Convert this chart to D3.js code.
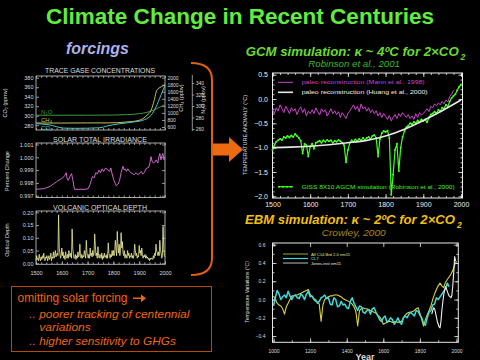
<!DOCTYPE html>
<html><head><meta charset="utf-8">
<script src="https://cdn.jsdelivr.net/npm/d3@7"></script>
<style>html,body{margin:0;padding:0;background:#000;overflow:hidden}svg{display:block}</style>
</head><body>
<svg id="c" width="480" height="360"></svg>
<script>
// ---------------- DATA ----------------
// Trace gases (left top panel)
const co2Years = [1500,1550,1607,1650,1748,1774,1825,1876,1913,1946,1965,1984,2000];
const co2Vals  = [283.2,281,274,273.5,274.7,278.3,283.2,286.7,290.3,300.8,318.3,343,364];
const ch4Years = [1500,1600,1700,1780,1850,1900,1930,1946,1958,1968,1985,2000];
const ch4Vals  = [714,712,716,716,742,790,932,1074,1350,1642,1740,1802];
const n2oYears = [1500,1600,1700,1800,1850,1900,1930,1953,1975,2000];
const n2oVals  = [284,284,284,284.3,285,286.6,289,292.5,297,302.3];
const co2Ticks = [280,300,320,340,360,380];
const ch4Ticks = [600,800,1000,1200,1400,1600,1800,2000];
const n2oTicks = [260,280,300,320,340];

// Solar total irradiance
const solarYears = [1500,1530,1555,1580,1600,1606,1612,1617,1620,1625,1632,1638,1643,1649,1670,1690,1702,1710,1719,1725,1732,1738,1744,1750,1756,1762,1770,1778,1786,1790,1795,1802,1811,1818,1824,1830,1837,1842,1846,1851,1856,1862,1868,1876,1882,1888,1894,1900,1908,1914,1920,1926,1931,1937,1942,1946,1950,1955,1960,1966,1972,1976,1980,1984,1988,1992,1996,2000];
const solarVals  = [0.9975,0.99755,0.99773,0.9981,0.99835,0.99843,0.9986,0.9988,0.9984,0.9982,0.9985,0.99872,0.9982,0.9975,0.9975,0.9975,0.99755,0.9979,0.9985,0.9984,0.9988,0.9987,0.9990,0.9988,0.9991,0.9989,0.99917,0.9990,0.9989,0.99917,0.9987,0.9982,0.99777,0.9979,0.9982,0.9988,0.9993,0.9990,0.9991,0.9989,0.9991,0.9989,0.9988,0.9987,0.99865,0.9988,0.99865,0.9987,0.9989,0.9987,0.9988,0.9991,0.99917,0.9992,0.9996,1.00005,0.9997,0.99955,0.9996,0.9998,0.99955,1.0000,1.0003,0.9998,1.0001,1.0003,0.9998,0.9999];
const solarTicks = [0.997,0.998,0.999,1.000,1.001];

// Volcanic optical depth, 2.5-year steps 1500..2000
const volcVals = [
 0.01,0.03,0.015,0.02,0.01,0.035,0.02,0.01,0.025,0.015,0.03,0.02,0.04,0.015,0.01,0.025,0.02,0.03,0.01,0.02,
 0.03,0.015,0.02,0.04,0.01,0.025,0.02,0.045,0.02,0.03,0.05,0.025,0.035,0.04,0.03,0.19,0.06,0.04,0.02,0.03,
 0.06,0.03,0.045,0.02,0.03,0.015,0.045,0.025,0.02,0.035,0.02,0.05,0.03,0.025,0.04,0.02,0.135,0.06,0.035,0.02,
 0.02,0.035,0.015,0.03,0.02,0.045,0.025,0.03,0.075,0.03,0.02,0.035,0.02,0.03,0.025,0.05,0.035,0.02,0.09,0.04,
 0.03,0.02,0.035,0.02,0.06,0.03,0.04,0.025,0.05,0.03,0.04,0.115,0.07,0.03,0.04,0.02,0.065,0.03,0.02,0.035,
 0.03,0.02,0.04,0.015,0.03,0.02,0.04,0.025,0.03,0.02,0.035,0.02,0.08,0.04,0.03,0.02,0.035,0.025,0.05,0.03,
 0.05,0.03,0.04,0.09,0.06,0.03,0.125,0.07,0.04,0.075,0.03,0.05,0.12,0.06,0.085,0.04,0.03,0.05,0.02,0.035,
 0.03,0.02,0.05,0.03,0.04,0.02,0.03,0.025,0.04,0.02,0.03,0.02,0.035,0.075,0.05,0.03,0.04,0.02,0.03,0.025,
 0.07,0.04,0.05,0.03,0.06,0.035,0.02,0.03,0.025,0.035,0.02,0.03,0.02,0.025,0.015,0.02,0.01,0.02,0.015,0.02,
 0.02,0.015,0.03,0.02,0.04,0.03,0.075,0.05,0.04,0.03,0.045,0.03,0.09,0.05,0.04,0.02,0.03,0.145,0.06,0.03,
 0.025];
const volcTicks = [0,0.05,0.10,0.15,0.20];
const leftYearTicks = [1500,1600,1700,1800,1900,2000];

// GCM panel: Mann et al. (5-year steps 1500..1980)
const mannVals = [
 -0.22,-0.30,-0.18,-0.25,-0.12,-0.20,-0.28,-0.15,-0.22,-0.30,
 -0.18,-0.25,-0.20,-0.32,-0.22,-0.16,-0.28,-0.20,-0.35,-0.25,
 -0.30,-0.22,-0.30,-0.18,-0.26,-0.33,-0.20,-0.27,-0.22,-0.35,
 -0.28,-0.20,-0.30,-0.24,-0.32,-0.26,-0.38,-0.28,-0.34,-0.40,
 -0.30,-0.25,-0.18,-0.12,-0.22,-0.15,-0.26,-0.10,-0.20,-0.16,
 -0.25,-0.18,-0.28,-0.22,-0.30,-0.24,-0.35,-0.28,-0.38,-0.30,
 -0.36,-0.42,-0.34,-0.45,-0.38,-0.32,-0.40,-0.30,-0.36,-0.28,
 -0.33,-0.38,-0.32,-0.40,-0.35,-0.42,-0.30,-0.38,-0.28,-0.33,
 -0.30,-0.25,-0.20,-0.26,-0.15,-0.18,-0.10,-0.14,-0.08,-0.12,
 -0.05,-0.10,-0.02,-0.06,0.05,0.10,0.18];
// Huang et al. borehole reconstruction
const huangYears = [1500,1550,1600,1650,1700,1750,1800,1850,1900,1950,2000];
const huangVals  = [-1.0,-0.99,-0.97,-0.94,-0.90,-0.85,-0.76,-0.62,-0.44,-0.24,-0.02];
// GISS 8x10 AGCM simulation (5-year steps 1500..2000)
const gissVals = [
 -1.05,-0.95,-0.88,-0.85,-0.82,-0.84,-0.78,-0.80,-0.76,-0.79,
 -0.75,-0.78,-0.72,-0.76,-0.80,-0.86,-1.12,-0.92,-0.95,-1.18,
 -0.98,-0.92,-1.02,-0.90,-0.88,-0.86,-0.90,-0.85,-0.88,-0.84,
 -0.87,-0.85,-0.90,-0.86,-0.88,-0.84,-0.87,-0.90,-0.95,-1.30,
 -1.05,-0.90,-0.85,-0.88,-0.83,-0.86,-0.82,-0.85,-0.80,-0.84,
 -0.80,-0.78,-0.82,-0.76,-0.74,-0.80,-1.18,-0.82,-0.70,-0.66,
 -0.68,-0.65,-0.80,-1.97,-1.55,-1.05,-0.92,-1.48,-1.00,-0.78,
 -0.66,-0.58,-0.55,-0.50,-0.52,-0.47,-0.50,-0.44,-0.48,-0.42,
 -0.45,-0.42,-0.48,-0.38,-0.32,-0.30,-0.26,-0.30,-0.22,-0.25,
 -0.18,-0.20,-0.12,-0.16,-0.05,0.02,0.06,0.10,0.18,0.25,
 0.30];
const gcmYTicks = [-2.0,-1.5,-1.0,-0.5,0.0,0.5];
const gcmXTicks = [1500,1600,1700,1800,1900,2000];

// EBM panel (Crowley 2000), 10-year steps
const c14Vals = [
 0.04,0.0,-0.04,-0.06,-0.07,-0.10,-0.16,-0.08,-0.04,0.0,
 0.04,0.04,0.05,0.05,0.06,0.07,0.08,0.09,0.10,0.11,
 0.06,0.03,0.0,-0.02,-0.03,-0.05,-0.24,-0.06,0.0,0.02,
 0.03,0.04,0.04,0.05,0.05,0.05,0.04,0.03,0.01,0.0,
 -0.01,-0.02,-0.03,-0.05,-0.08,-0.13,-0.29,-0.12,-0.10,-0.09,
 -0.10,-0.10,-0.11,-0.12,-0.13,-0.14,-0.15,-0.17,-0.19,-0.22,
 -0.27,-0.26,-0.25,-0.24,-0.24,-0.25,-0.24,-0.24,-0.25,-0.24,
 -0.24,-0.20,-0.17,-0.15,-0.14,-0.14,-0.13,-0.12,-0.10,-0.09,
 -0.15,-0.22,-0.29,-0.22,-0.17,-0.12,-0.07,0.0,0.06,0.11,
 0.15,0.18,0.15,0.13,0.19,0.22,0.25,0.28,0.32,0.38,0.42];
const cl7Vals = [
 -0.07,0.02,0.10,0.06,0.0,0.03,0.05,0.02,0.09,0.04,
 0.0,0.04,0.05,0.02,0.01,0.06,0.04,0.0,0.06,0.09,
 0.03,0.04,0.01,0.0,-0.04,-0.02,0.02,0.03,0.05,0.01,
 0.02,-0.05,-0.06,0.02,0.0,-0.08,-0.07,-0.02,-0.06,-0.05,
 -0.09,-0.10,-0.02,0.02,-0.04,-0.08,-0.12,-0.07,-0.08,-0.14,
 -0.15,-0.12,-0.11,-0.16,-0.10,-0.09,-0.14,-0.18,-0.22,-0.24,
 -0.20,-0.18,-0.25,-0.23,-0.20,-0.22,-0.27,-0.24,-0.20,-0.25,
 -0.27,-0.20,-0.18,-0.20,-0.16,-0.14,-0.16,-0.18,-0.12,-0.13,
 -0.17,-0.20,-0.26,-0.28,-0.20,-0.14,-0.12,-0.06,-0.05,0.02,
 0.0,0.03,0.06,0.09,0.12,0.18,0.14];
const jonesYears = [1865,1870,1875,1880,1885,1890,1895,1900,1905,1910,1915,1920,1925,1930,1935,1940,1945,1950,1955,1960,1965,1970,1975,1980,1985,1990,1995];
const jonesVals  = [-0.16,-0.12,-0.09,-0.10,-0.14,-0.19,-0.24,-0.27,-0.30,-0.31,-0.24,-0.12,-0.03,0.05,0.10,0.14,0.12,0.09,0.06,0.04,0.03,0.02,0.05,0.16,0.30,0.47,0.42];
const ebmYTicks = [-0.4,-0.2,0.0,0.2,0.4,0.6];
const ebmXTicks = [1000,1200,1400,1600,1800,2000];

// ---------------- DRAWING ----------------
const FONT = '"Liberation Sans", Arial, Helvetica, sans-serif';
const svg = d3.select("#c");
svg.append("rect").attr("width",480).attr("height",360).attr("fill","#000");

function T(x,y,s,o={}){
  const t = svg.append("text").attr("x",x).attr("y",y).text(s)
    .attr("font-family",o.font||FONT).attr("fill",o.fill||"#fff")
    .attr("font-size",o.size||6).attr("text-anchor",o.anchor||"start");
  if(o.bold) t.attr("font-weight","bold");
  if(o.italic) t.attr("font-style","italic");
  if(o.len) t.attr("textLength",o.len).attr("lengthAdjust","spacingAndGlyphs");
  if(o.rot) t.attr("transform",`rotate(${o.rot},${x},${y})`);
  return t;
}
function ax(gen, scale, vals, size, fmt, tx, ty, o){
  const a = gen(scale).tickValues(vals).tickSize(size).tickSizeOuter(0)
    .tickPadding(o.pad==null?2:o.pad).tickFormat(fmt||(()=>""));
  const g = svg.append("g").attr("transform",`translate(${tx},${ty})`).call(a);
  g.select(".domain").remove();
  g.attr("font-size",o.fs||6).attr("font-family",FONT);
  g.selectAll("line").attr("stroke",o.c||"#bbb").attr("stroke-width",o.sw||0.8);
  g.selectAll("text").attr("fill",o.tc||"#ddd");
  return g;
}
function box(l,t,r,b,c,sw){
  svg.append("rect").attr("x",l).attr("y",t).attr("width",r-l).attr("height",b-t)
    .attr("fill","none").attr("stroke",c).attr("stroke-width",sw||1);
}
function path(data, x, y, color, w, curve){
  const ln = d3.line().x(d=>x(d[0])).y(d=>y(d[1]));
  if(curve) ln.curve(curve);
  return svg.append("path").datum(data).attr("d",ln).attr("fill","none")
    .attr("stroke",color).attr("stroke-width",w).attr("stroke-linejoin","round");
}
const zip = (xs,ys)=>xs.map((v,i)=>[v,ys[i]]);

// Title
T(240,24,"Climate Change in Recent Centuries",{size:22,bold:true,fill:"#62ec3c",anchor:"middle",len:388});
T(66,54,"forcings",{size:16,bold:true,italic:true,fill:"#aeb2ee",len:63});

// ---- Left panels ----
const xL = d3.scaleLinear().domain([1500,2000]).range([36,165]);
const minorYears = d3.range(1500,2001,20);
const LC = "#b8b8b8";

// Trace gases
const yCO2 = d3.scaleLinear().domain([270,383.6]).range([130,76]);
const yCH4 = d3.scaleLinear().domain([515,2048]).range([130,76]);
const yN2O = d3.scaleLinear().domain([256.5,354]).range([131,75]);
T(100,73,"TRACE GASE CONCENTRATIONS",{size:6.5,anchor:"middle",fill:"#ddd",len:110});
ax(d3.axisLeft, yCO2, co2Ticks, -3, d=>d, 36,0,{fs:5.5,pad:2.5,c:LC});
ax(d3.axisRight, yCH4, ch4Ticks, -3, d=>d, 165,0,{fs:5,pad:2.5,c:LC});
ax(d3.axisBottom, xL, minorYears, -2, null, 0,130,{c:LC});
ax(d3.axisTop, xL, minorYears, -2, null, 0,76,{c:LC});
box(36,76,165,130,LC,0.9);
svg.append("line").attr("x1",192.3).attr("x2",192.3).attr("y1",75).attr("y2",131).attr("stroke",LC).attr("stroke-width",0.8);
ax(d3.axisRight, yN2O, n2oTicks, 2, d=>d, 192.3,0,{fs:5,pad:1.5,c:LC});
T(7,103,"CO\u2082 (ppmv)",{size:5.5,anchor:"middle",rot:-90,fill:"#ddd"});
T(183,98,"CH\u2084 (ppbv)",{size:5.5,anchor:"middle",rot:-90,fill:"#ddd"});
T(205,100,"N\u2082O (ppbv)",{size:5.5,anchor:"middle",rot:-90,fill:"#ddd"});
path(zip(n2oYears,n2oVals), xL, yN2O, "#3f9a3f", 1, d3.curveMonotoneX);
path(zip(ch4Years,ch4Vals), xL, yCH4, "#c2c25a", 1, d3.curveMonotoneX);
path(zip(co2Years,co2Vals), xL, yCO2, "#4cc8c8", 1, d3.curveMonotoneX);
T(41,114,"N\u2082O",{size:6,fill:"#3f9a3f"});
T(41,122,"CH\u2084",{size:6,fill:"#c2c25a"});
T(41,130,"CO\u2082",{size:6,fill:"#4cc8c8"});

// Solar
const ySol = d3.scaleLinear().domain([0.99686,1.001117]).range([197.5,143]);
T(100,141.5,"SOLAR TOTAL IRRADIANCE",{size:6.5,anchor:"middle",fill:"#ddd",len:94});
ax(d3.axisLeft, ySol, solarTicks, -3, d3.format(".3f"), 36,0,{fs:5.5,pad:2.5,c:LC});
ax(d3.axisRight, ySol, solarTicks, -3, null, 165,0,{c:LC});
ax(d3.axisBottom, xL, minorYears, -2, null, 0,197.5,{c:LC});
ax(d3.axisTop, xL, minorYears, -2, null, 0,143,{c:LC});
box(36,143,165,197.5,LC,0.9);
T(9,171,"Percent Change",{size:5.5,anchor:"middle",rot:-90,fill:"#ddd"});
path(zip(solarYears,solarVals), xL, ySol, "#cc66cc", 1);

// Volcanic
const yVol = d3.scaleLinear().domain([-0.0039,0.2051]).range([264.3,211]);
T(100,209.5,"VOLCANIC OPTICAL DEPTH",{size:6.5,anchor:"middle",fill:"#ddd",len:94});
ax(d3.axisLeft, yVol, volcTicks, -3, d3.format(".2f"), 36,0,{fs:5.5,pad:2.5,c:LC});
ax(d3.axisRight, yVol, volcTicks, -3, null, 165,0,{c:LC});
ax(d3.axisBottom, xL, leftYearTicks, -3, d=>d, 0,264.3,{fs:5.5,pad:7,c:LC});
ax(d3.axisBottom, xL, minorYears, -2, null, 0,264.3,{c:LC});
ax(d3.axisTop, xL, minorYears, -2, null, 0,211,{c:LC});
box(36,211,165,264.3,LC,0.9);
T(9,240,"Optical Depth",{size:5.5,anchor:"middle",rot:-90,fill:"#ddd"});
path(volcVals.map((v,i)=>[1500+i*2.5,v]), xL, yVol, "#eeee99", 0.8);

// Orange bracket and arrow
const OR = "#e0600e";
svg.append("path").attr("d","M191,63 Q212,63 212,80 L212,258 Q212,275 191,275")
  .attr("fill","none").attr("stroke",OR).attr("stroke-width",2);
svg.append("path").attr("d","M213,143.5 L229,143.5 L229,137 L243,149.5 L229,162 L229,155.5 L213,155.5 Z").attr("fill","#ee6a10");

// Orange text box
box(11.5,286.5,211.5,351.5,"#b84a08",1);
T(17.5,302.3,"omitting solar forcing",{size:12,fill:"#ee6611",len:110});
svg.append("path").attr("d","M133,297.6 L141,297.6 L141,294.4 L146,298.3 L141,302.2 L141,299 L133,299 Z").attr("fill","#ee6611");
T(29.3,318.3,".. poorer tracking of centennial",{size:11,italic:true,fill:"#ee6611",len:160});
T(39.3,331,"variations",{size:11,italic:true,fill:"#ee6611",len:51.5});
T(29.3,345,".. higher sensitivity to GHGs",{size:11,italic:true,fill:"#ee6611",len:146.5});

// ---- GCM panel ----
T(245.7,56,"GCM simulation: \u03ba ~ 4\u00baC for 2\u00d7CO",{size:13.2,bold:true,italic:true,fill:"#66dd2e",len:213});
T(460.5,59.8,"2",{size:8.5,bold:true,italic:true,fill:"#66dd2e"});
T(308.3,67,"Robinson et al., 2001",{size:8.5,italic:true,fill:"#3cb82a",len:91.7});
const xG = d3.scaleLinear().domain([1500,2000]).range([272.5,461]);
const yG = d3.scaleLinear().domain([-2.035,0.535]).range([198,73]);
const GC = "#eee";
ax(d3.axisLeft, yG, gcmYTicks, -4, d3.format(".1f"), 272.5,0,{fs:7,pad:4.5,c:GC,tc:"#eee"});
ax(d3.axisLeft, yG, d3.range(-2.0,0.51,0.1), -2, null, 272.5,0,{c:GC});
ax(d3.axisRight, yG, gcmYTicks, -4, null, 462.5,0,{c:GC});
ax(d3.axisRight, yG, d3.range(-2.0,0.51,0.1), -2, null, 462.5,0,{c:GC});
ax(d3.axisBottom, xG, gcmXTicks, -4, d=>d, 0,198,{fs:7,pad:4.5,c:GC,tc:"#eee"});
ax(d3.axisBottom, xG, d3.range(1500,2001,20), -2, null, 0,198,{c:GC});
ax(d3.axisTop, xG, gcmXTicks, -4, null, 0,73,{c:GC});
ax(d3.axisTop, xG, d3.range(1500,2001,20), -2, null, 0,73,{c:GC});
box(272.5,73,462.5,198,GC,1);
T(247,135,"TEMPERATURE ANOMALY (\u00b0C)",{size:5.5,anchor:"middle",rot:-90,fill:"#ddd"});
path(mannVals.map((v,i)=>[1500+i*5,v]), xG, yG, "#cc44cc", 1);
path(gissVals.map((v,i)=>[1500+i*5,v]), xG, yG, "#44ff22", 1.2);
svg.append("g").selectAll("circle").data(gissVals.map((v,i)=>[1500+i*5,v])).join("circle")
  .attr("cx",d=>xG(d[0])).attr("cy",d=>yG(d[1])).attr("r",1).attr("fill","#44ff22");
path(zip(huangYears,huangVals), xG, yG, "#e8e8e8", 1.6, d3.curveMonotoneX);
// legend
svg.append("line").attr("x1",278).attr("x2",293).attr("y1",82.3).attr("y2",82.3).attr("stroke","#cc44cc").attr("stroke-width",1);
T(301.7,84.3,"paleo reconstruction (Mann et al., 1998)",{size:6,fill:"#cc44cc",len:123});
svg.append("line").attr("x1",278).attr("x2",293).attr("y1",92.3).attr("y2",92.3).attr("stroke","#e8e8e8").attr("stroke-width",1.6);
T(301.7,94.3,"paleo reconstruction (Huang et al., 2000)",{size:6,fill:"#eee",len:126});
svg.append("line").attr("x1",278).attr("x2",293).attr("y1",186.7).attr("y2",186.7).attr("stroke","#44ff22").attr("stroke-width",1.2);
svg.append("g").selectAll("circle").data([279,283,287,291]).join("circle")
  .attr("cx",d=>d).attr("cy",186.7).attr("r",1).attr("fill","#44ff22");
T(301.7,188.7,"GISS 8X10 AGCM simulation (Robinson et al., 2000)",{size:6,fill:"#44ee22",len:153});

// ---- EBM panel ----
T(245,224.3,"EBM simulation: \u03ba ~ 2\u00baC for 2\u00d7CO",{size:13.2,bold:true,italic:true,fill:"#efbf10",len:210});
T(457,228,"2",{size:8.5,bold:true,italic:true,fill:"#efbf10"});
T(321.7,236,"Crowley, 2000",{size:9,italic:true,fill:"#a98612",len:64});
const xE = d3.scaleLinear().domain([1000,2000]).range([273.5,456.5]);
const yE = d3.scaleLinear().domain([-0.468,0.619]).range([342.3,243]);
const EC = "#e8e8e8";
ax(d3.axisLeft, yE, ebmYTicks, -4, d3.format(".1f"), 272.5,0,{fs:5,pad:7,c:EC,tc:"#ddd"});
ax(d3.axisLeft, yE, d3.range(-0.4,0.61,0.1), -2, null, 272.5,0,{c:EC});
ax(d3.axisRight, yE, ebmYTicks, -4, null, 458.3,0,{c:EC});
ax(d3.axisRight, yE, d3.range(-0.4,0.61,0.1), -2, null, 458.3,0,{c:EC});
ax(d3.axisBottom, xE, ebmXTicks, -4, d=>d, 0,342.3,{fs:5,pad:7,c:EC,tc:"#ddd"});
ax(d3.axisBottom, xE, d3.range(1000,2001,100), -2, null, 0,342.3,{c:EC});
ax(d3.axisTop, xE, ebmXTicks, -4, null, 0,243,{c:EC});
box(272.5,243,458.3,342.3,EC,1);
T(249,292,"Temperature Variations (\u00b0C)",{size:5,anchor:"middle",rot:-90,fill:"#ddd"});
T(365,359.5,"Year",{size:9,bold:true,anchor:"middle",fill:"#ddd"});
path(c14Vals.map((v,i)=>[1000+i*10,v]), xE, yE, "#d8d040", 1.1);
path(cl7Vals.map((v,i)=>[1000+i*10,v]), xE, yE, "#40d8d8", 1.5);
path(zip(jonesYears,jonesVals), xE, yE, "#f0f0f0", 1.1);
// legend
svg.append("line").attr("x1",283).attr("x2",308).attr("y1",254).attr("y2",254).attr("stroke","#d8d040").attr("stroke-width",0.8);
T(311,255.5,"All C14.Brd 2.0 em11",{size:4.3,fill:"#e6e080",len:39});
svg.append("line").attr("x1",283).attr("x2",308).attr("y1",258.5).attr("y2",258.5).attr("stroke","#40d8d8").attr("stroke-width",1.2);
T(311,260,"CL7",{size:4.3,fill:"#80e0e0"});
svg.append("line").attr("x1",283).attr("x2",308).attr("y1",263).attr("y2",263).attr("stroke","#f0f0f0").attr("stroke-width",0.8);
T(311,264.5,"Jones.inst em11",{size:4.3,fill:"#eee",len:30});
</script>
</body></html>
